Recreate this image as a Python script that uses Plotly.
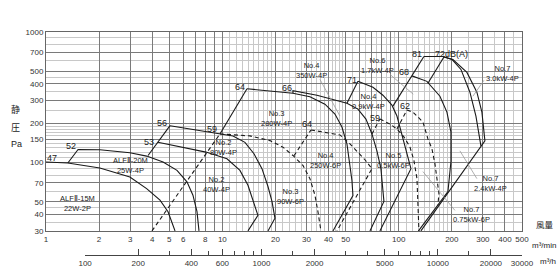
import math
import plotly.graph_objects as go

# ---------------- data: airflow Q [m3/min], static pressure P [Pa] ----------------
alf15m_q = [1.0, 1.33, 2.02, 2.99, 3.72, 4.43, 4.92, 5.25, 5.39]
alf15m_p = [101, 99.3, 91, 77.7, 63.3, 51.6, 42.1, 33.3, 30]

alf20m_q = [1.33, 1.52, 2.02, 2.99, 3.72, 4.61, 5.53, 6.30, 6.81, 7.18, 7.37]
alf20m_p = [99.3, 126, 125.3, 118.9, 112.2, 101.1, 87.2, 71.2, 56.3, 42.1, 30]

lim56_q = [3.79, 5.05]
lim56_p = [113.4, 191.7]

no2_40w_q = [4.31, 8.07, 10.62, 12.58, 13.97, 15.11, 15.91, 13.97]
no2_40w_p = [143.4, 120.4, 107.1, 87.2, 67.1, 49.6, 39.5, 30]

no2_80w_q = [5.05, 9.69, 11.49, 13.43, 15.11, 16.77, 18.14, 19.11, 19.87, 18.14]
no2_80w_p = [191.7, 165.8, 160.1, 143, 116.9, 89.9, 65.6, 50.5, 37.5, 30]

lim59_q = [3.99, 9.69]
lim59_p = [30, 165.8]
lim64_q = [9.69, 13.79]
lim64_p = [165.8, 367.6]

no3_280w_q = [13.79, 25.13, 31.37, 38.16, 43.49, 47.64, 50.86, 52.90, 54.28, 55.01, 42.36]
no3_280w_p = [367.6, 339.8, 319.6, 280.3, 235.3, 187.4, 139.2, 98.1, 72.9, 56.0, 30]

no3_90w_q = [9.69, 14.34, 18.61, 22.06, 25.13, 28.63, 31.37, 33.49, 34.83, 36.22]
no3_90w_p = [165.8, 160.1, 147.4, 131.3, 113.4, 95.2, 75.4, 56.3, 42.1, 30]

lim64d_q = [25.46, 31.79]
lim64d_p = [112.8, 177.8]
no4_250w_q = [31.79, 46.42, 52.90, 58.70, 64.33, 70.50, 44.65]
no4_250w_p = [177.8, 162.9, 139.2, 121.0, 105.2, 89.9, 30]

no4_350w_q = [25.13, 25.13, 34.38, 50.86, 58.70, 65.18, 70.50, 75.21, 79.25, 81.35, 82.43, 68.68]
no4_350w_p = [339.8, 354.8, 328.1, 285.1, 256.8, 215.6, 165.8, 123.1, 89.9, 65.6, 50.5, 30]

lim71_q = [50.86, 58.70]
lim71_p = [285.1, 419]
no4_09kw_q = [58.70, 71.43, 81.35, 91.52, 97.68, 101.6, 107.0, 112.8, 117.3, 78.22]
no4_09kw_p = [419, 377.4, 328.1, 275.4, 227.2, 187.4, 139.2, 110.9, 89.9, 30]

lim59b_q = [70.50, 78.22]
lim59b_p = [165.8, 215.6]
no5_05kw_q = [78.22, 89.15, 97.68, 107.0, 115.7, 122.0, 126.9, 128.5, 130.2]
no5_05kw_p = [215.6, 197.5, 181.0, 157.3, 132.1, 103.4, 75.4, 48.7, 30]

lim81_q = [92.71, 138.9]
lim81_p = [270.7, 649]
no7_30kw_q = [138.9, 178.1, 202.9, 243.6, 277.5, 296.2, 308.1, 133.6]
no7_30kw_p = [649, 649, 616, 490.7, 345.8, 243.7, 146.7, 30]

no6_17kw_q = [118.8, 144.5, 171.2, 187.6, 197.7, 197.7, 190.1, 129.4]
no6_17kw_p = [461.4, 419, 322.4, 243.7, 171.7, 101.6, 60.1, 30]

lim72_q = [146.4, 180.4]
lim72_p = [404.7, 643.5]
no7_24kw_q = [180.4, 200.3, 225.3, 253.3, 274.0, 288.6, 292.4]
no7_24kw_p = [643.5, 616, 517, 345.8, 227.2, 151.9, 134.4]

lim62_q = [97.68, 111.3]
lim62_p = [181.0, 252.4]
no7_075kw_q = [111.3, 120.4, 137.2, 146.4, 154.3, 160.4, 164.7, 169.0, 166.8]
no7_075kw_p = [252.4, 243.7, 204.6, 151.9, 127.5, 98.1, 75.4, 58.0, 47.0]

# leader lines (thin gray)
leaders = [
    ([35.75, 46.42], [434, 227.2]),
    ([89.15, 120.9], [473.7, 334]),
    ([304.1, 263.4], [426.6, 322.4]),
    ([222.3, 277.5], [123.1, 75.4]),
    ([137.2, 208.2], [85.3, 43.1]),
]

# noise labels dB(A)
db_text = ["47", "52", "53", "56", "59", "64", "66", "71", "59", "62", "68", "81", "72dB(A)", "64"]
db_q = [1.081, 1.386, 3.836, 4.528, 8.70, 12.58, 23.15, 54.1, 73.3, 108.4, 107.5, 126.4, 200.3, 30.37]
db_p = [108.9, 134.4, 144.9, 201, 181, 382, 375.6, 426.6, 221.3, 272, 490.7, 678, 684, 197.5]

# model labels
model_text = ["ALFⅡ-15M<br>22W-2P", "ALFⅡ-20M<br>25W-4P", "No.2<br>80W-4P", "No.2<br>40W-4P",
              "No.3<br>280W-4P", "No.4<br>350W-4P", "No.4<br>0.9kW-4P", "No.6<br>1.7kW-4P",
              "No.7<br>3.0kW-4P", "No.5<br>0.5kW-6P", "No.7<br>2.4kW-4P", "No.7<br>0.75kW-6P",
              "No.3<br>90W-6P", "No.4<br>250W-6P"]
model_q = [1.499, 3.033, 10.21, 9.32, 20.39, 32.19, 67.8, 76.2, 389.6, 93.93, 333.2, 260.0, 24.48, 38.66]
model_p = [48.7, 94.7, 129.8, 67.9, 217.5, 503.8, 295.4, 554.6, 477.9, 103.4, 69.1, 40.2, 55.1, 103.9]

# axes ticks
x_major = [1, 2, 3, 4, 5, 6, 7, 8, 9, 10, 20, 30, 40, 50, 60, 70, 80, 90, 100, 200, 300, 400, 500]
x_major_txt = ["1", "2", "3", "4", "5", "6", "", "8", "", "10", "20", "30", "40", "50", "", "", "", "",
               "100", "200", "300", "400", "500"]
x_minor = list(range(11, 20)) + [22, 24, 26, 28, 32, 34, 36, 38, 42, 44, 46, 48, 55, 65, 75, 85, 95] + \
          list(range(110, 200, 10)) + [250, 350, 450]
y_major = [30, 40, 50, 70, 100, 150, 200, 300, 400, 500, 700, 1000]
y_minor = [35, 45, 60, 80, 90, 110, 120, 130, 140, 160, 170, 180, 190, 250, 350, 450, 600, 800, 900]
h_major = [100, 200, 400, 600, 1000, 2000, 5000, 10000, 20000, 30000]
h_minor = [300, 500, 700, 800, 900, 1500, 3000, 4000, 6000, 7000, 8000, 9000, 15000]

# ---------------- figure ----------------
fig = go.Figure()
INK = "#1a1a1a"
DASH = "4px,3px"


def add(q, p, dash=None, color=INK, width=1.1):
    fig.add_trace(go.Scatter(x=q, y=p, mode="lines", line=dict(color=color, width=width, dash=dash),
                             hoverinfo="skip", showlegend=False))


add(alf15m_q, alf15m_p)
add(alf20m_q, alf20m_p)
add(lim56_q, lim56_p)
add(no2_40w_q, no2_40w_p)
add(no2_80w_q, no2_80w_p)
add(lim59_q, lim59_p, DASH)
add(lim64_q, lim64_p)
add(no3_280w_q, no3_280w_p)
add(no3_90w_q, no3_90w_p, DASH)
add(lim64d_q, lim64d_p, DASH)
add(no4_250w_q, no4_250w_p, DASH)
add(no4_350w_q, no4_350w_p)
add(lim71_q, lim71_p)
add(no4_09kw_q, no4_09kw_p)
add(lim59b_q, lim59b_p, DASH)
add(no5_05kw_q, no5_05kw_p, DASH)
add(lim81_q, lim81_p)
add(no7_30kw_q, no7_30kw_p)
add(no6_17kw_q, no6_17kw_p)
add(lim72_q, lim72_p)
add(no7_24kw_q, no7_24kw_p)
add(lim62_q, lim62_p, DASH)
add(no7_075kw_q, no7_075kw_p, DASH)
for lq, lp in leaders:
    add(lq, lp, None, "#9a9a9a", 0.8)

# invisible trace for the m3/h axis
fig.add_trace(go.Scatter(x=[h_major[0], h_major[-1]], y=[0.5, 0.5], xaxis="x2", yaxis="y3",
                         mode="lines", line=dict(width=0), opacity=0, hoverinfo="skip", showlegend=False))

ann = []
for t, q, p in zip(db_text, db_q, db_p):
    ann.append(dict(x=math.log10(q), y=math.log10(p), xref="x", yref="y", text=t, showarrow=False,
                    xanchor="center", yanchor="middle", font=dict(size=9, color="#222")))
for t, q, p in zip(model_text, model_q, model_p):
    ann.append(dict(x=math.log10(q), y=math.log10(p), xref="x", yref="y", text=t, showarrow=False,
                    xanchor="center", yanchor="middle", font=dict(size=7.5, color="#222")))

cjk = "Noto Sans CJK JP"
side_txt = [("静", -0.065, 0.653, cjk, 9), ("圧", -0.065, 0.573, cjk, 9), ("Pa", -0.063, 0.498, None, 9),
            ("風量", 1.048, 0.138, cjk, 8.5), ("m³/min", 1.046, 0.044, None, 8), ("m³/h", 1.055, -0.031, None, 8)]
for t, x, y, fam, sz in side_txt:
    f = dict(size=sz, color="#222")
    if fam:
        f["family"] = fam
    ann.append(dict(x=x, y=y, xref="paper", yref="paper", text=t, showarrow=False,
                    xanchor="center", yanchor="middle", font=f))

tickfont = dict(size=8, color="#333")
fig.update_layout(
    width=560, height=280,
    margin=dict(l=46, r=38, t=32, b=23, pad=0),
    paper_bgcolor="white", plot_bgcolor="rgba(0,0,0,0)",
    font=dict(family="Liberation Sans, Arial, sans-serif", size=8, color="#222"),
    showlegend=False,
    annotations=ann,
    xaxis=dict(type="log", range=[0, math.log10(500)], domain=[0, 1], anchor="y",
               tickmode="array", tickvals=x_major, ticktext=x_major_txt, ticks="",
               showgrid=True, gridcolor="#7a7a7a", gridwidth=0.8, zeroline=False,
               showline=True, mirror=True, linecolor="#666", linewidth=1, tickfont=tickfont,
               minor=dict(tickmode="array", tickvals=x_minor, showgrid=True, gridcolor="#c8c8c8",
                          gridwidth=0.7, ticks="")),
    yaxis=dict(type="log", range=[math.log10(30), 3], domain=[0.108, 1], anchor="x",
               tickmode="array", tickvals=y_major, ticktext=[str(v) for v in y_major], ticks="",
               showgrid=True, gridcolor="#7a7a7a", gridwidth=0.8, zeroline=False,
               showline=True, mirror=True, linecolor="#666", linewidth=1, tickfont=tickfont,
               minor=dict(tickmode="array", tickvals=y_minor, showgrid=True, gridcolor="#c8c8c8",
                          gridwidth=0.7, ticks="")),
    xaxis2=dict(type="log", range=[2, math.log10(30000)],
                domain=[math.log10(100 / 60) / math.log10(500), 1], anchor="y3", side="bottom",
                tickmode="array", tickvals=h_major, ticktext=[str(v) for v in h_major],
                ticks="inside", ticklen=6, tickcolor="#444", tickwidth=1,
                showgrid=False, zeroline=False, showline=True, linecolor="#444", linewidth=1,
                tickfont=tickfont,
                minor=dict(tickmode="array", tickvals=h_minor, ticks="inside", ticklen=4,
                           tickcolor="#444", showgrid=False)),
    yaxis3=dict(domain=[0, 0.05], range=[0, 1], visible=False, anchor="x2"),
)

fig.write_html("out.html")
